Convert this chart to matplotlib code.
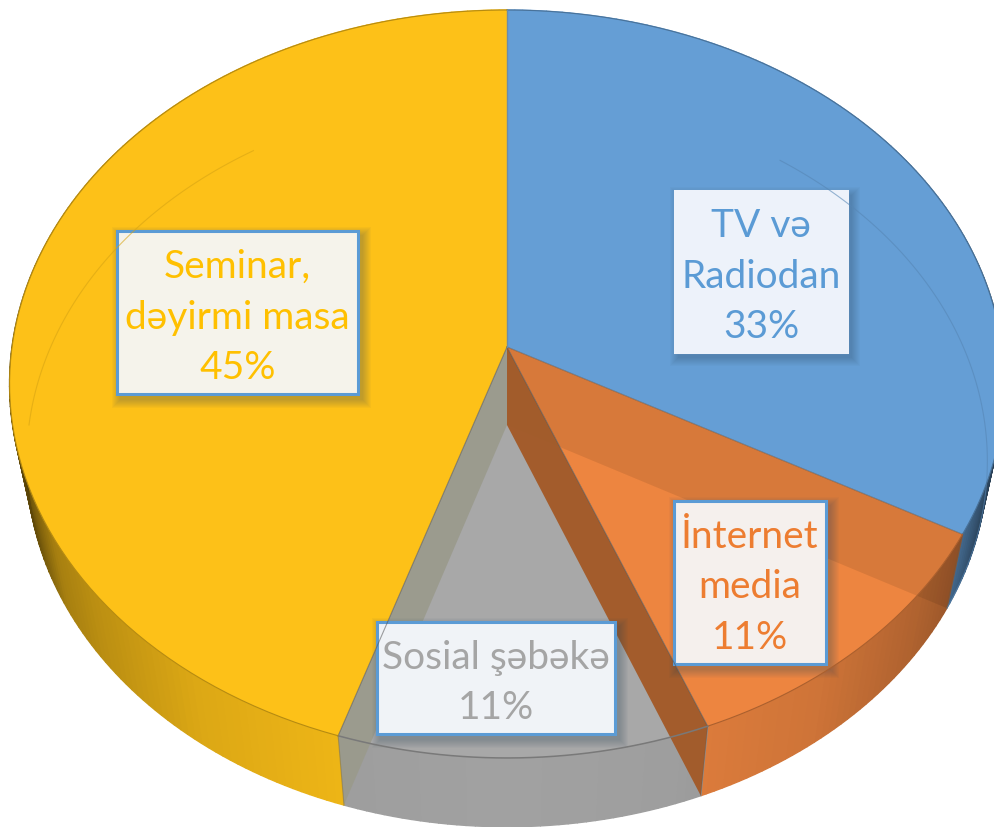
import numpy as np
import matplotlib
matplotlib.use('Agg')
import matplotlib.pyplot as plt
from matplotlib.patches import Rectangle

# datos
categorias = ['TV və\nRadiodan', 'İnternet\nmedia', 'Sosial şəbəkə', 'Seminar,\ndəyirmi masa']
porcentajes = [33, 11, 11, 45]
colores = ['#659ED5', '#ED8540', '#A8A8A8', '#FDC118']
colores_texto = ['#5B9BD5', '#ED7D31', '#A5A5A5', '#FFC000']
fondos = ['#EDF2FA', '#F5F0ED', '#F0F3F7', '#F5F3EB']

# cajas de etiqueta: x0, y0, x1, y1 en pixeles
cajas = [(675, 191, 847, 352), (674, 501, 826, 664), (377, 622, 615, 734), (117, 231, 358, 394)]

# perspectiva de las dos caras del pastel
K = 0.0989
CX = 507
ARRIBA = dict(R=495, a=347, b=-336)
ABAJO = dict(R=478, a=425, b=-320)


def proyectar(theta, cara):
    # theta en grados, sentido horario desde arriba
    t = np.radians(theta)
    u, v = np.sin(t), np.cos(t)
    d = 1 + K * v
    return CX + cara['R'] * u / d, (cara['a'] + cara['b'] * v) / d


def sombra(x):
    d = np.abs(x - CX) / 497
    return np.interp(d, [0, 0.33, 0.62, 0.82, 0.9, 0.97, 1.0], [0.96, 0.94, 0.87, 0.74, 0.66, 0.38, 0.3])


fig = plt.figure(figsize=(9.95, 8.27), dpi=100)
ax = fig.add_axes([0, 0, 1, 1])
ax.set_xlim(0, 995)
ax.set_ylim(827, 0)
ax.axis('off')

bordes = np.concatenate([[0], np.cumsum(porcentajes)]) * 3.6

# lados exteriores con degradado
for i, color in enumerate(colores):
    base = np.array(matplotlib.colors.to_rgb(color))
    angulos = np.arange(bordes[i], bordes[i + 1] + 0.01, 1.0)
    if angulos[-1] < bordes[i + 1]:
        angulos = np.append(angulos, bordes[i + 1])
    for a0, a1 in zip(angulos[:-1], angulos[1:]):
        x0, y0 = proyectar(a0, ARRIBA)
        x1, y1 = proyectar(a1, ARRIBA)
        x2, y2 = proyectar(a1, ABAJO)
        x3, y3 = proyectar(a0, ABAJO)
        c = base * sombra((x0 + x1 + x2 + x3) / 4)
        ax.fill([x0, x1, x2, x3], [y0, y1, y2, y3], color=c, lw=1.0)

# caras superiores
for i, color in enumerate(colores):
    th = np.linspace(bordes[i], bordes[i + 1], 200)
    x, y = proyectar(th, ARRIBA)
    ax.fill(np.r_[CX, x], np.r_[ARRIBA['a'], y], color=color, lw=0)

# borde de la cara inferior visto a traves del pastel, solo a los lados
for th in [np.linspace(38, 118.8, 120), np.linspace(270, 325, 120)]:
    x, y = proyectar(th, ABAJO)
    c = np.array(matplotlib.colors.to_rgb(colores[0 if th[0] < 100 else 3])) * 0.85
    ax.plot(x, y, color=c, lw=0.8, alpha=0.6)


def pared(theta, color, alpha):
    x0, y0 = proyectar(theta, ARRIBA)
    x1, y1 = proyectar(theta, ABAJO)
    ax.fill([CX, CX, x1, x0], [ARRIBA['a'], ABAJO['a'], y1, y0], color=color, alpha=alpha, lw=0)
    ax.plot([CX, x0], [ARRIBA['a'], y0], color='#555555', lw=0.8, alpha=0.55)
    ax.plot([x0, x1], [y0, y1], color='#555555', lw=0.8, alpha=0.35)


# paredes interiores, se ven a traves de la capa transparente
pared(bordes[1], '#000000', 0.09)
pared(bordes[3], '#9A9A8C', 0.9)
pared(bordes[2], '#A35A28', 0.97)

# borde superior delantero
for i, color in enumerate(colores):
    th = np.linspace(bordes[i], bordes[i + 1], 200)
    x, y = proyectar(th, ARRIBA)
    c = np.array(matplotlib.colors.to_rgb(color)) * 0.72
    ax.plot(x, y, color=c, lw=1.1 if i == 2 else 0.8)
ax.plot([CX, CX], [ARRIBA['a'], ARRIBA['a'] - 337], color='#6C8CA8', lw=1)

# etiquetas
for cat, pct, caja, fondo, ct, i in zip(categorias, porcentajes, cajas, fondos, colores_texto, range(4)):
    x0, y0, x1, y1 = caja
    # sombra difusa
    for s in range(1, 10):
        ax.add_patch(Rectangle((x0 + 4 - s, y0 + 5 - s), x1 - x0 + 2 * s, y1 - y0 + 2 * s,
                               fc='#2F4A60', ec='none', alpha=0.035))
    borde = fondo if i == 0 else '#5B9BD5'
    ax.add_patch(Rectangle((x0, y0), x1 - x0, y1 - y0, fc=fondo, ec=borde, lw=2.2))
    ax.text((x0 + x1) / 2, (y0 + y1) / 2 + 5, f'{cat}\n{pct}%', color=ct, ha='center', va='center',
            fontsize=28, linespacing=1.5, family=['Lato', 'Noto Sans', 'DejaVu Sans'])

fig.savefig('out.png', dpi=100)
